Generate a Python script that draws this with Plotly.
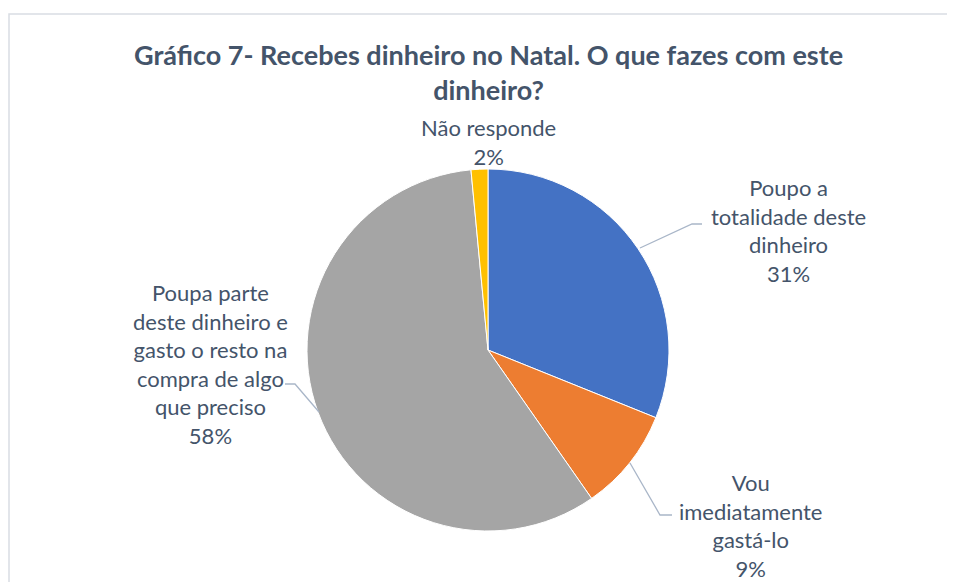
import plotly.graph_objects as go

W, H = 955, 582

categories = [
    "Poupo a<br>totalidade deste<br>dinheiro",
    "Vou<br>imediatamente<br>gastá-lo",
    "Poupa parte<br>deste dinheiro e<br>gasto o resto na<br>compra de algo<br>que preciso",
    "Não responde",
]
values = [31.1, 9.2, 58.2, 1.5]
colors = ["#4472C4", "#ED7D31", "#A5A5A5", "#FFC000"]
title_text = "Gráfico 7- Recebes dinheiro no Natal. O que fazes com este<br>dinheiro?"

FONT = "Lato"
TXT = "#44546A"
OFF = 8  # page body margin


def px(x):
    return (x - OFF) / W


def py(y):
    return 1 - (y - OFF) / H


cx, cy, r = 488, 350, 181

fig = go.Figure(go.Pie(
    labels=[c.replace("<br>", " ") for c in categories],
    values=values,
    sort=False,
    direction="clockwise",
    rotation=0,
    marker=dict(colors=colors, line=dict(color="white", width=1)),
    textinfo="none",
    hoverinfo="label+percent",
    showlegend=False,
    domain=dict(x=[px(cx - r), px(cx + r)], y=[py(cy + r), py(cy - r)]),
))

# label positions (block centre)
label_pos = [(788, 231), (750, 525), (210, 364), (488, 142)]
total = sum(values)
for cat, v, (lx, ly) in zip(categories, values, label_pos):
    fig.add_annotation(
        x=px(lx), y=py(ly), xref="paper", yref="paper",
        xanchor="center", yanchor="middle", showarrow=False,
        align="center",
        text=f"{cat}<br>{v / total * 100:.0f}%",
        font=dict(family=FONT, size=22, color=TXT),
    )

# title
fig.add_annotation(
    x=px(488), y=py(72), xref="paper", yref="paper",
    xanchor="center", yanchor="middle", showarrow=False, align="center",
    text=f"<b>{title_text}</b>",
    font=dict(family=FONT, size=27, color=TXT),
)

# leader lines
leaders = [
    [(640, 248), (692, 224), (702, 224)],
    [(630, 463), (660, 515), (672, 515)],
    [(319, 412), (295, 384), (285, 384)],
]
for pts in leaders:
    path = "M " + " L ".join(f"{px(x)} {py(y)}" for x, y in pts)
    fig.add_shape(type="path", path=path, xref="paper", yref="paper",
                  line=dict(color="#A9B6C8", width=1.3))

# chart border
fig.add_shape(type="rect", xref="paper", yref="paper",
              x0=px(9), x1=px(954), y0=py(600), y1=py(14),
              line=dict(color="#D9DDE3", width=1.5), fillcolor="rgba(0,0,0,0)")

fig.update_layout(
    width=W, height=H,
    margin=dict(l=0, r=0, t=0, b=0),
    paper_bgcolor="white",
    plot_bgcolor="white",
)

fig.write_html("out.html")
